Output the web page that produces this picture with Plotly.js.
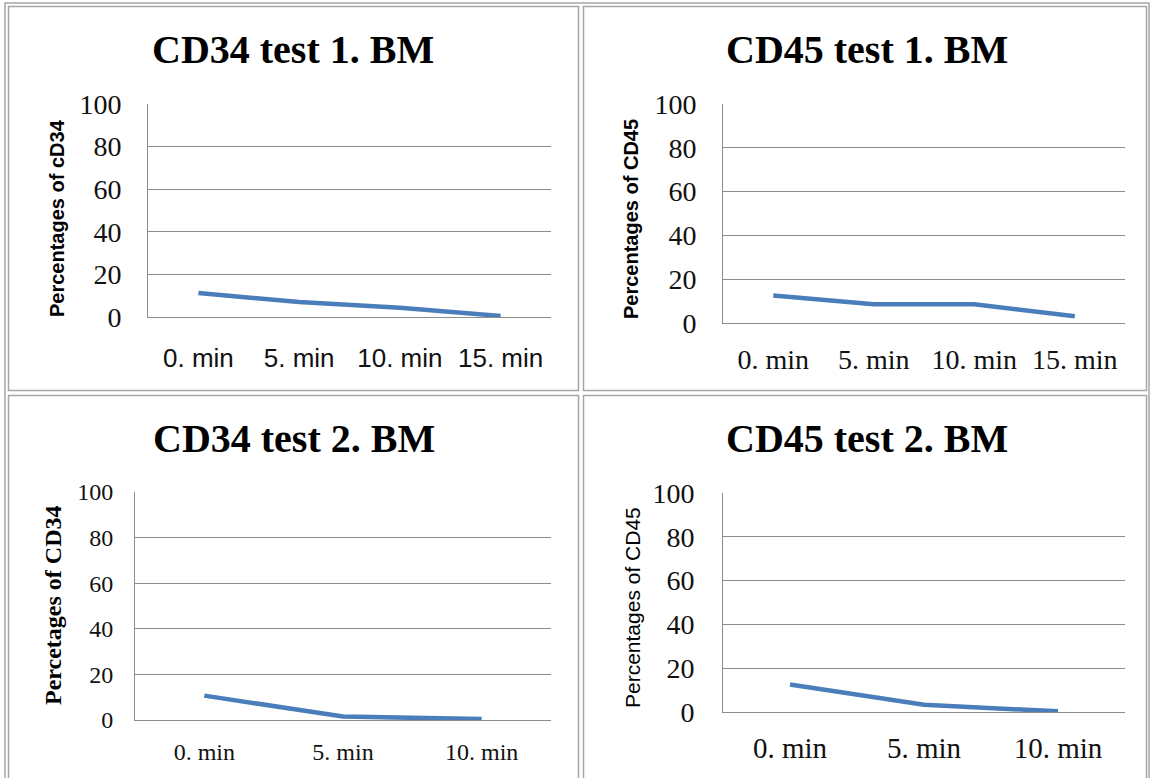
<!DOCTYPE html>
<html>
<head>
<meta charset="utf-8">
<script src="https://cdn.plot.ly/plotly-3.0.1.min.js"></script>
<style>html,body{margin:0;padding:0;background:#fff;}#chart{width:1150px;height:778px;}</style>
</head>
<body>
<div id="chart"></div>
<script>
// ---- data ----
const cats4 = ["0. min", "5. min", "10. min", "15. min"];
const cats3 = ["0. min", "5. min", "10. min"];
const cd34Test1 = [11.3, 7.0, 4.3, 0.5];
const cd45Test1 = [12.6, 8.6, 8.6, 3.1];
const cd34Test2 = [10.7, 1.5, 0.4];
const cd45Test2 = [12.6, 3.3, 0.3];
const panelTitles = ["CD34 test 1. BM", "CD45 test 1. BM", "CD34 test 2. BM", "CD45 test 2. BM"];
const yTitles = ["Percentages of cD34", "Percentages of CD45", "Percetages of CD34", "Percentages of CD45"];
const yTicks = [0, 20, 40, 60, 80, 100];

// ---- layout helpers (pixel -> paper) ----
const W = 1150, H = 778;
const px = v => v / W;
const py = v => 1 - v / H;

const LINE = '#4A7EBB';
const GRID = '#8c8c8c';
const SERIF = 'Liberation Serif';
const SANS = 'Liberation Sans';

function serif(size) { return {family: SERIF, size: size, color: '#111'}; }
function sans(size) { return {family: SANS, size: size, color: '#111'}; }

function trace(x, y, n) {
  const s = n === 1 ? '' : String(n);
  return {x: x, y: y, type: 'scatter', mode: 'lines', xaxis: 'x' + s, yaxis: 'y' + s,
    line: {color: LINE, width: 4.5}, hoverinfo: 'x+y', showlegend: false};
}

function xax(n, l, r, cats, font, tl) {
  return {domain: [px(l), px(r)], anchor: 'y' + (n === 1 ? '' : n), type: 'category',
    categoryorder: 'array', categoryarray: cats, range: [-0.5, cats.length - 0.5],
    showgrid: false, zeroline: false, showline: true, linecolor: GRID, linewidth: 1,
    ticks: 'outside', ticklen: tl, tickcolor: 'rgba(0,0,0,0)', tickfont: font, fixedrange: true};
}
function yax(n, top, bot, font, tl) {
  return {domain: [py(bot), py(top)], anchor: 'x' + (n === 1 ? '' : n), range: [0, 100],
    tickmode: 'array', tickvals: yTicks, showgrid: true, gridcolor: GRID, gridwidth: 1, zeroline: false,
    showline: true, linecolor: GRID, linewidth: 1, ticks: 'outside', ticklen: tl,
    tickcolor: 'rgba(0,0,0,0)', tickfont: font, fixedrange: true};
}

const data = [
  trace(cats4, cd34Test1, 1),
  trace(cats4, cd45Test1, 2),
  trace(cats3, cd34Test2, 3),
  trace(cats3, cd45Test2, 4)
];

function ann(text, x, y, font, angle) {
  return {text: text, x: px(x), y: py(y), xref: 'paper', yref: 'paper', showarrow: false,
    xanchor: 'center', yanchor: 'middle', font: font, textangle: angle || 0};
}
function titleFont() { return {family: SERIF, size: 40, color: '#000', weight: 'bold'}; }

const annotations = [
  ann(panelTitles[0], 293, 49, titleFont()),
  ann(panelTitles[1], 867, 49, titleFont()),
  ann(panelTitles[2], 294, 438, titleFont()),
  ann(panelTitles[3], 867, 438, titleFont()),
  ann(yTitles[0], 57, 218, {family: SANS, size: 20, color: '#000', weight: 'bold'}, -90),
  ann(yTitles[1], 631, 219, {family: SANS, size: 20, color: '#000', weight: 'bold'}, -90),
  ann(yTitles[2], 53, 606, {family: SERIF, size: 24, color: '#000', weight: 'bold'}, -90),
  ann(yTitles[3], 632, 608, {family: SANS, size: 21, color: '#000'}, -90)
];

function rect(x0, y0, x1, y1, w, c) {
  return {type: 'rect', xref: 'paper', yref: 'paper', x0: px(x0), x1: px(x1), y0: py(y1), y1: py(y0),
    line: {color: c, width: w}, fillcolor: 'rgba(0,0,0,0)', layer: 'below'};
}
const shapes = [
  rect(5, 3, 1149, 790, 1.5, '#a6a6a6'),
  rect(8.5, 6.5, 578.5, 390.5, 1.5, '#a6a6a6'),
  rect(583.5, 6.5, 1146.5, 390.5, 1.5, '#a6a6a6'),
  rect(8.5, 395.5, 578.5, 790, 1.5, '#a6a6a6'),
  rect(583.5, 395.5, 1146.5, 790, 1.5, '#a6a6a6')
];

const layout = {
  width: W, height: H, margin: {l: 0, r: 0, t: 0, b: 0},
  paper_bgcolor: '#fff', plot_bgcolor: 'rgba(0,0,0,0)', showlegend: false,
  xaxis: xax(1, 148, 551, cats4, sans(26), 18),
  yaxis: yax(1, 104, 317, serif(28), 20),
  xaxis2: xax(2, 723, 1125, cats4, serif(28), 11),
  yaxis2: yax(2, 104, 323, serif(28), 20),
  xaxis3: xax(3, 135, 551, cats3, serif(24), 10),
  yaxis3: yax(3, 492, 720, serif(24), 16),
  xaxis4: xax(4, 723, 1125, cats3, serif(29), 10),
  yaxis4: yax(4, 493, 712, serif(28), 22),
  annotations: annotations,
  shapes: shapes
};

Plotly.newPlot('chart', data, layout, {displayModeBar: false, staticPlot: true});
</script>
</body>
</html>
